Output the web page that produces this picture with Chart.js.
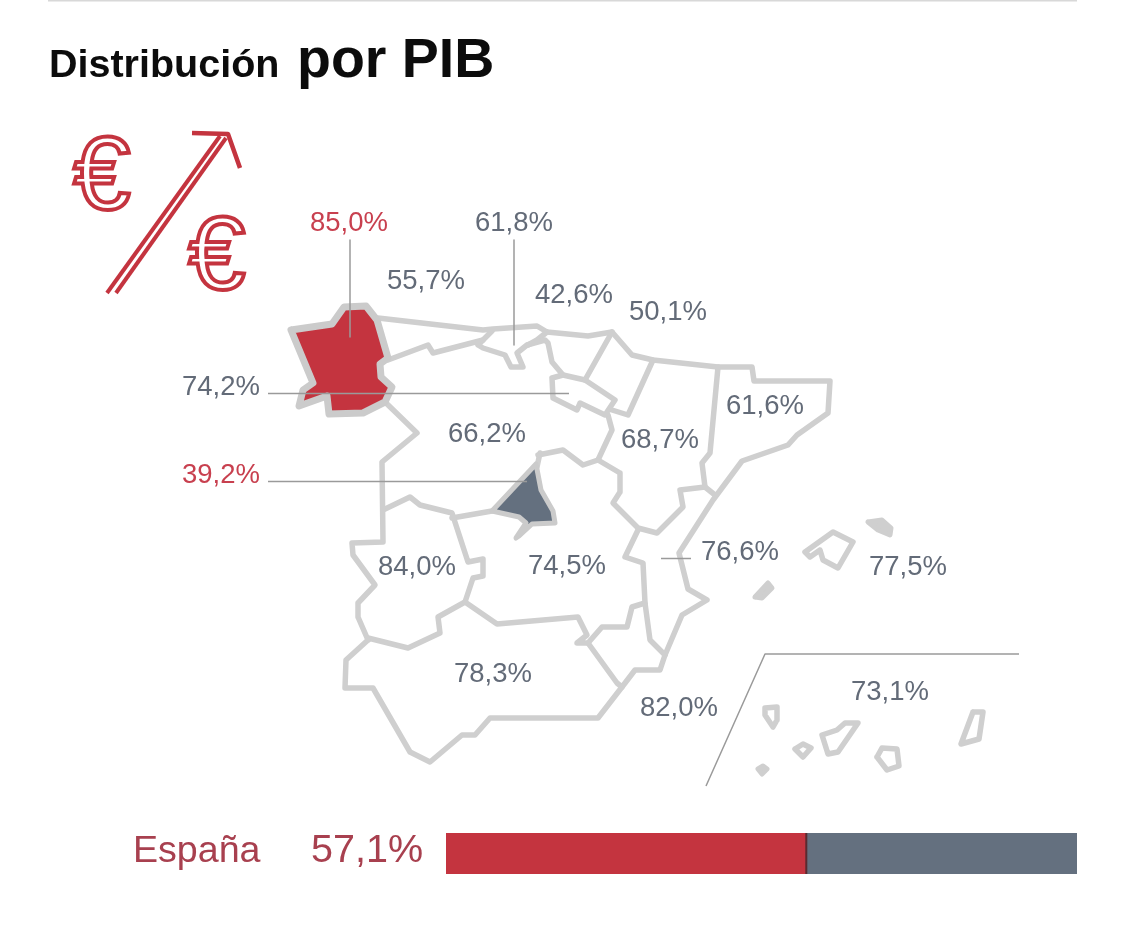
<!DOCTYPE html>
<html lang="es">
<head>
<meta charset="utf-8">
<title>Distribución por PIB</title>
<script src="https://cdn.jsdelivr.net/npm/chart.js@4"></script>
<style>
	html, body { margin: 0; padding: 0; background: #fff; overflow: hidden; }
	#mapa { position: absolute; left: 0; top: 0; }
	#barra { position: absolute; left: 446px; top: 833px; }
</style>
</head>
<body>
<canvas id="mapa" width="1125" height="949"></canvas>
<canvas id="barra" width="631" height="41"></canvas>
<script>
// regional values, as printed
const regiones = ['Galicia', 'Asturias', 'Cantabria', 'País Vasco', 'Navarra', 'La Rioja', 'Castilla y León', 'Madrid', 'Aragón', 'Cataluña', 'Extremadura', 'Castilla-La Mancha', 'C. Valenciana', 'Baleares', 'Andalucía', 'Murcia', 'Canarias'];
const valores = ['85,0%', '55,7%', '61,8%', '42,6%', '50,1%', '74,2%', '66,2%', '39,2%', '68,7%', '61,6%', '84,0%', '74,5%', '76,6%', '77,5%', '78,3%', '82,0%', '73,1%'];
const etiquetaX = [349, 426, 514, 574, 668, 221, 487, 221, 660, 765, 417, 567, 740, 908, 493, 679, 890];
const etiquetaY = [222, 280, 222, 294, 311, 386, 433, 474, 439, 405, 566, 565, 551, 566, 673, 707, 691];
const destacadas = ['Galicia', 'Madrid'];

// spain total
const espana = 57.1;
const resto = 42.9;

// outlines
const galicia = [[291,330],[332,324],[344,307],[366,306],[377,320],[388,358],[380,364],[381,377],[392,387],[385,402],[363,413],[329,414],[327,396],[299,406],[303,390],[313,383],[291,330]];
const madrid = [[492,511],[536,464],[541,490],[553,511],[555,523],[532,524],[519,536],[516,538],[526,523],[519,517],[492,511]];
const costaNorte = [[378,318],[483,330],[493,329],[537,326],[547,332],[588,336],[612,332],[632,355],[653,360],[718,367],[752,367],[754,381],[830,381],[828,413],[797,435],[788,445],[742,461],[713,500],[679,553],[688,589],[707,600],[682,615],[665,655],[660,670],[635,670],[622,687],[598,718],[490,718],[475,735],[462,735],[430,762],[410,752],[373,688],[345,688],[346,660],[368,640]];
const asturias = [[388,360],[428,345],[433,353],[483,340],[492,331]];
const cantabria = [[483,340],[478,345],[483,348],[505,355],[511,367],[523,367],[517,353],[527,345],[545,340],[548,343],[552,362],[563,375]];
const vascos = [[547,332],[537,340],[528,345]];
const navarra = [[612,332],[585,380]];
const rioja = [[552,378],[563,375],[585,380],[615,400],[605,415],[580,403],[577,410],[553,398],[552,378]];
const aragonNorte = [[653,360],[628,415],[612,410]];
const castillaEste = [[608,415],[612,430],[598,460],[583,465],[563,450],[538,455]];
const madridNorte = [[540,453],[537,467]];
const aragonSur = [[598,460],[620,473],[620,492],[613,503],[638,528],[657,533],[683,507],[680,490],[705,487],[715,495]];
const cataluna = [[718,367],[710,453],[702,463],[705,487]];
const valencia = [[638,530],[625,557],[643,563],[645,603],[650,640],[665,655]];
const murcia = [[645,603],[632,607],[627,627],[602,627],[588,643],[577,643],[587,635],[578,617],[497,624],[465,602]];
const andaluciaEste = [[588,643],[617,683],[622,687]];
const portugal = [[385,402],[417,433],[382,462],[383,542],[352,543],[353,555],[375,585],[358,603],[358,617],[368,640]];
const extremadura = [[383,510],[410,497],[420,505],[452,513],[468,562],[483,559],[483,576],[473,578],[465,602],[438,617],[440,633],[408,648],[368,638]];
const manchaNorte = [[452,518],[492,511]];
const mallorca = [[805,552],[833,532],[853,542],[838,568],[823,560],[820,550],[810,557],[805,552]];
const menorca = [[868,522],[882,520],[891,528],[890,535],[878,530],[868,522]];
const ibiza = [[755,597],[768,583],[772,588],[762,598],[755,597]];
const laPalma = [[765,708],[777,707],[777,720],[773,727],[765,715],[765,708]];
const gomera = [[795,749],[803,744],[811,748],[803,757],[795,749]];
const hierro = [[758,769],[763,766],[767,769],[762,774],[758,769]];
const tenerife = [[822,735],[837,730],[845,723],[858,723],[838,752],[828,754],[822,735]];
const granCanaria = [[877,757],[882,748],[897,749],[899,766],[887,770],[877,757]];
const lanzarote = [[973,712],[983,712],[979,739],[961,744],[973,712]];

// leader lines and frames
const guias = [
	[[350,240],[350,337]],
	[[514,240],[514,345]],
	[[268,393.5],[569,393.5]],
	[[268,481.5],[527,481.5]],
	[[661,558.5],[691,558.5]],
	[[1019,654],[765,654],[706,786]],
];
const lineaSuperior = [[48,0.5],[1077,0.5]];

// arrow of the icon
const flechaA = [[107,293],[220,136]];
const flechaB = [[116,293],[226,138]];
const flechaPunta = [[192,133],[228,134],[240,168]];

const GRIS = '#cfcfcf';
const ROJO = '#c4343f';
const PIZARRA = '#64707f';
const TEXTO = '#636b78';

function toPoints(arr) {
	return arr.map((p) => ({ x: p[0], y: p[1] }));
}

function trazo(arr, color, ancho, relleno) {
	return {
		data: toPoints(arr),
		showLine: true,
		borderColor: color,
		borderWidth: ancho,
		borderJoinStyle: 'round',
		borderCapStyle: ancho >= 5 ? 'round' : 'butt',
		pointRadius: 0,
		tension: 0,
		fill: relleno ? 'shape' : false,
		backgroundColor: relleno || 'transparent',
	};
}

const contornos = [costaNorte, asturias, cantabria, vascos, navarra, rioja, aragonNorte, castillaEste, madridNorte, aragonSur, cataluna, valencia, murcia, andaluciaEste, portugal, extremadura, manchaNorte, mallorca, laPalma, gomera, tenerife, granCanaria, lanzarote];
const islasLlenas = [menorca, ibiza, hierro];

// first dataset ends up on top
const datasets = [
	...guias.map((g) => trazo(g, '#9a9a9a', 1.5)),
	trazo(galicia, '#cbcbcb', 7, ROJO),
	trazo(madrid, '#cbcbcb', 5, PIZARRA),
	...contornos.map((c) => trazo(c, GRIS, 5.5)),
	...islasLlenas.map((c) => trazo(c, GRIS, 5, GRIS)),
	trazo(lineaSuperior, '#d8d8d8', 2),
	trazo(flechaA, ROJO, 4),
	trazo(flechaB, ROJO, 4),
	trazo(flechaPunta, ROJO, 4.5),
];

const textos = {
	id: 'textos',
	afterDatasetsDraw(chart) {
		const { ctx, scales } = chart;
		const escribir = (txt, x, y, font, color, align) => {
			ctx.font = font;
			ctx.fillStyle = color;
			ctx.textAlign = align || 'center';
			ctx.textBaseline = 'alphabetic';
			ctx.fillText(txt, scales.x.getPixelForValue(x), scales.y.getPixelForValue(y));
		};
		ctx.save();
		escribir('Distribución', 49, 77, 'bold 39.5px "Liberation Sans"', '#0c0c0c', 'left');
		escribir('por PIB', 297, 77, 'bold 55.5px "Liberation Sans"', '#0c0c0c', 'left');
		valores.forEach((v, i) => {
			const color = destacadas.includes(regiones[i]) ? '#c8404f' : TEXTO;
			escribir(v, etiquetaX[i], etiquetaY[i] + 9, '27.5px "Liberation Sans"', color);
		});
		escribir('España', 133, 862, '37.6px "Liberation Sans"', '#a8404f', 'left');
		escribir('57,1%', 311, 862, '39.5px "Liberation Sans"', '#a8404f', 'left');
		// euro signs, outlined
		ctx.font = '103px "Liberation Sans"';
		ctx.strokeStyle = ROJO;
		ctx.lineWidth = 4;
		ctx.textAlign = 'center';
		ctx.strokeText('€', scales.x.getPixelForValue(102), scales.y.getPixelForValue(209));
		ctx.strokeText('€', scales.x.getPixelForValue(217), scales.y.getPixelForValue(289));
		ctx.restore();
	},
};

new Chart(document.getElementById('mapa').getContext('2d'), {
	type: 'scatter',
	data: { datasets },
	options: {
		responsive: false,
		animation: false,
		devicePixelRatio: 1,
		layout: { padding: 0 },
		plugins: { legend: { display: false }, tooltip: { enabled: false } },
		scales: {
			x: { type: 'linear', display: false, min: 0, max: 1125 },
			y: { type: 'linear', display: false, min: 0, max: 949, reverse: true },
		},
	},
	plugins: [textos],
});

const divisor = {
	id: 'divisor',
	afterDatasetsDraw(chart) {
		const { ctx, scales, chartArea } = chart;
		const x = scales.x.getPixelForValue(espana);
		ctx.save();
		ctx.fillStyle = '#5a2a30';
		ctx.fillRect(x - 1, chartArea.top, 2, chartArea.bottom - chartArea.top);
		ctx.restore();
	},
};

new Chart(document.getElementById('barra').getContext('2d'), {
	type: 'bar',
	data: {
		labels: ['España'],
		datasets: [
			{ data: [espana], backgroundColor: ROJO, barPercentage: 1, categoryPercentage: 1 },
			{ data: [resto], backgroundColor: PIZARRA, barPercentage: 1, categoryPercentage: 1 },
		],
	},
	options: {
		indexAxis: 'y',
		responsive: false,
		animation: false,
		devicePixelRatio: 1,
		layout: { padding: 0 },
		plugins: { legend: { display: false }, tooltip: { enabled: false } },
		scales: {
			x: { stacked: true, display: false, min: 0, max: 100 },
			y: { stacked: true, display: false },
		},
	},
	plugins: [divisor],
});
</script>
</body>
</html>
